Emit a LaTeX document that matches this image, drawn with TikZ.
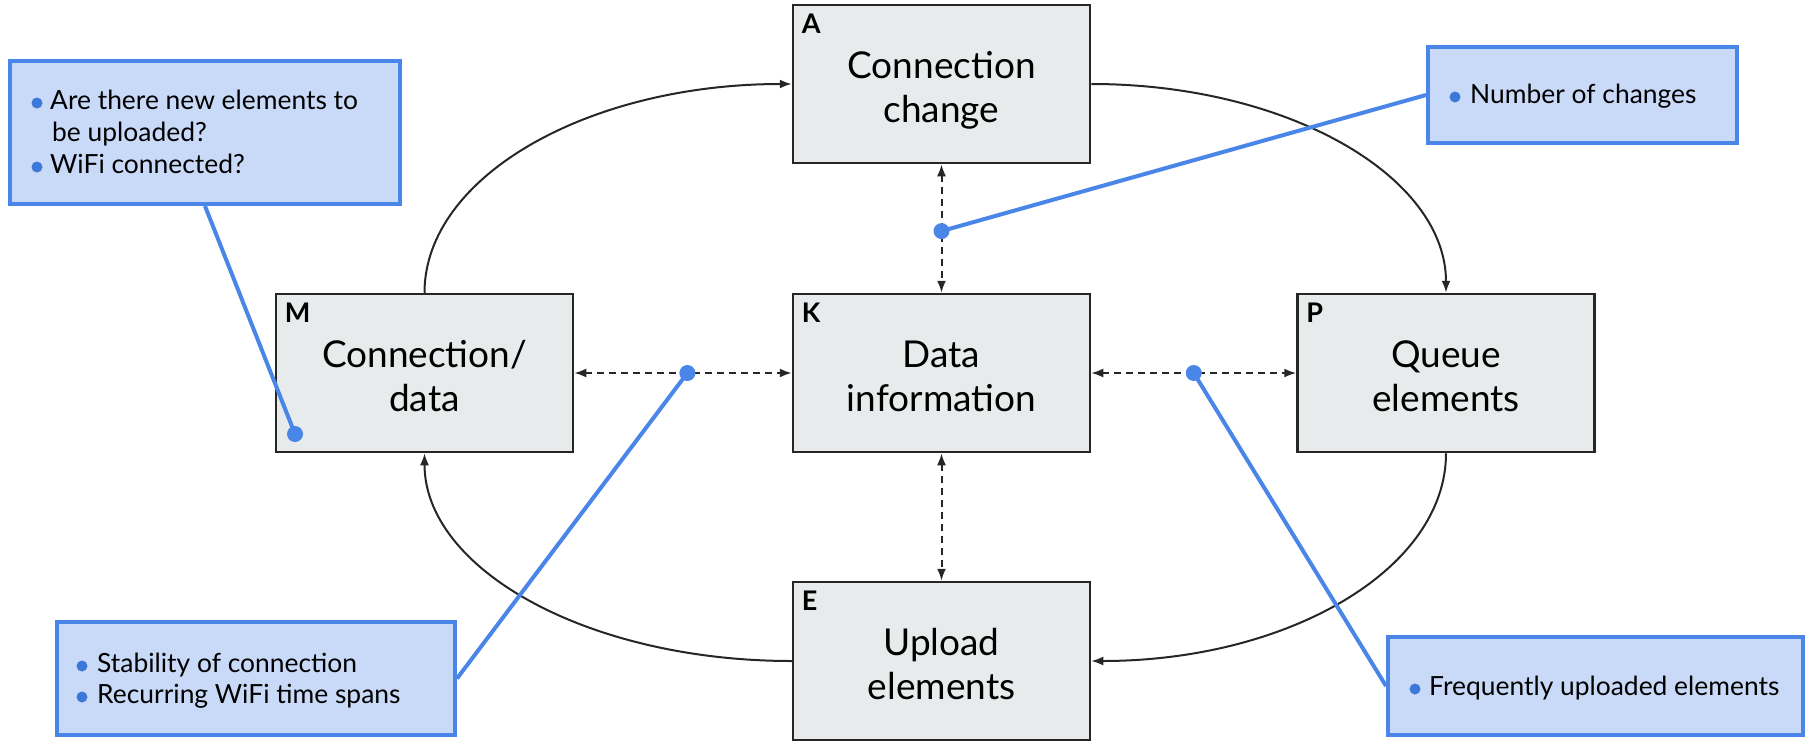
\documentclass[tikz,border=0pt]{standalone}
\usepackage{fontspec}
\setmainfont{Lato}
\usetikzlibrary{arrows.meta}
\definecolor{boxfill}{HTML}{E8EBEC}
\definecolor{boxline}{HTML}{262626}
\definecolor{callfill}{HTML}{C9DAF8}
\definecolor{callline}{HTML}{4A86E8}
\definecolor{bulc}{HTML}{3C78D8}
\newcommand\bigfnt{\fontsize{37}{44}\selectfont}
\newcommand\smfnt{\fontsize{26.4}{32}\selectfont}
\newcommand\lblfnt{\fontsize{27}{30}\selectfont\bfseries}
\newcommand\tstrut{\rule{0pt}{42pt}}
\newcommand\bstrut{\rule[-10pt]{0pt}{10pt}}
\tikzset{
  mainbox/.style={draw=boxline, fill=boxfill, line width=2.5pt, minimum width=297pt, minimum height=158pt, align=center, font=\bigfnt, inner sep=0pt},
  boxlbl/.style={anchor=base west, font=\lblfnt, inner sep=0pt},
  callbox/.style={draw=callline, fill=callfill, line width=4pt, inner sep=0pt},
  ctext/.style={anchor=base west, font=\smfnt, inner sep=0pt},
  flow/.style={draw=boxline, line width=2pt, -{Latex[length=12pt,width=9pt]}},
  link/.style={draw=boxline, line width=2pt, dash pattern=on 7pt off 5pt, {Latex[length=12pt,width=9pt]}-{Latex[length=12pt,width=9pt]}},
  pointer/.style={draw=callline, line width=4pt},
  bdot/.style={fill=callline},
  bul/.style={fill=bulc}
}
\begin{document}
\begin{tikzpicture}[x=1pt,y=-1pt]
\useasboundingbox (0,0) rectangle (1806,742);
% main boxes
\node[mainbox] (A) at (941.5,84) {\tstrut Connection\\change\bstrut};
\node[mainbox] (K) at (941.5,373) {\tstrut Data\\information\bstrut};
\node[mainbox] (E) at (941.5,661) {\tstrut Upload\\elements\bstrut};
\node[mainbox] (M) at (424.5,373) {\tstrut Connection/\\data\bstrut};
\node[mainbox] (P) at (1446,373) {\tstrut Queue\\elements\bstrut};
\node[boxlbl] (lA) at ([xshift=10pt,yshift=-30pt]A.north west) {A};
\node[boxlbl] (lK) at ([xshift=10pt,yshift=-30pt]K.north west) {K};
\node[boxlbl] (lE) at ([xshift=10pt,yshift=-30pt]E.north west) {E};
\node[boxlbl] (lM) at ([xshift=10pt,yshift=-30pt]M.north west) {M};
\node[boxlbl] (lP) at ([xshift=10pt,yshift=-30pt]P.north west) {P};
% cycle
\draw[flow] (M.north) .. controls +(0,-116) and +(-204,0) .. (A.west);
\draw[flow] (A.east) .. controls +(197,0) and +(0,-116) .. (P.north);
\draw[flow] (P.south) .. controls +(0,116) and +(197,0) .. (E.east);
\draw[flow] (E.west) .. controls +(-204,0) and +(0,116) .. (M.south);
% dashed links
\draw[link] (A.south) -- (K.north) coordinate[pos=0.52] (dA);
\draw[link] (M.east) -- (K.west) coordinate[pos=0.52] (dM2);
\draw[link] (K.east) -- (P.west) coordinate[pos=0.5] (dP);
\draw[link] (K.south) -- (E.north);
\coordinate (dM) at (295,434);
% callouts
\node[callbox, minimum width=390pt, minimum height=143pt] (c1) at (205,132.5) {};
\node[callbox, minimum width=309pt, minimum height=96pt] (c2) at (1582.5,95) {};
\node[callbox, minimum width=398pt, minimum height=113pt] (c3) at (256,678.5) {};
\node[callbox, minimum width=415pt, minimum height=98pt] (c4) at (1595.5,686) {};
% pointers
\draw[pointer] (dM) -- (c1.south);
\draw[pointer] (dA) -- (c2.west);
\draw[pointer] (dM2) -- (c3.east);
\draw[pointer] (dP) -- (c4.west);
\fill[bdot] (dM) circle (8pt);
\fill[bdot] (dA) circle (8pt);
\fill[bdot] (dM2) circle (8pt);
\fill[bdot] (dP) circle (8pt);
% callout texts
\node[ctext] (t1a) at (50,109) {Are there new elements to};
\node[ctext] (t1b) at (52,141) {be uploaded?};
\node[ctext] (t1c) at (50,173) {WiFi connected?};
\fill[bul] (37,103) circle (5.5pt);
\fill[bul] (37,167) circle (5.5pt);
\node[ctext] (t2a) at (1470,103) {Number of changes};
\fill[bul] (1455,97) circle (5.5pt);
\node[ctext] (t3a) at (97,672) {Stability of connection};
\node[ctext] (t3b) at (97,703) {Recurring WiFi time spans};
\fill[bul] (82,666) circle (5.5pt);
\fill[bul] (82,697) circle (5.5pt);
\node[ctext] (t4a) at (1429,695) {Frequently uploaded elements};
\fill[bul] (1415,689) circle (5.5pt);
\end{tikzpicture}
\end{document}
